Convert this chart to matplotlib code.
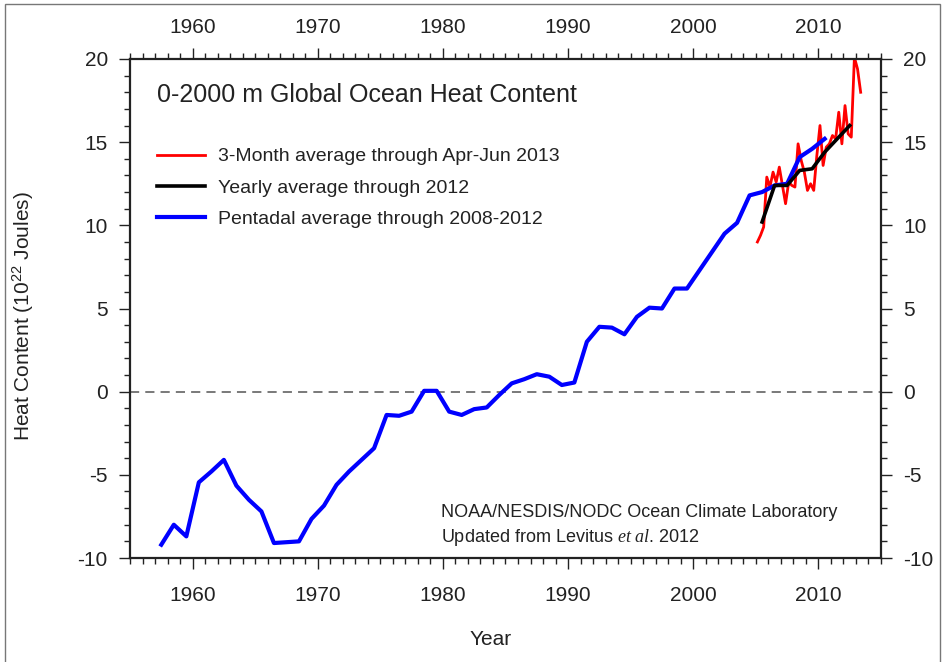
import numpy as np
import matplotlib
matplotlib.use('Agg')
import matplotlib.pyplot as plt
from matplotlib.ticker import MultipleLocator
from matplotlib.patches import Rectangle

plt.rcParams['font.family'] = ['Liberation Sans', 'DejaVu Sans']
plt.rcParams['mathtext.fontset'] = 'custom'
plt.rcParams['mathtext.rm'] = 'Liberation Sans'
plt.rcParams['mathtext.it'] = 'Liberation Serif:italic'
plt.rcParams['axes.unicode_minus'] = False

# pentadal average (centre years)
pent_years = np.arange(1957.5, 2011.0, 1.0)
pent_vals = [-9.2, -8.0, -8.7, -5.45, -4.8, -4.1, -5.65, -6.5, -7.2, -9.1,
             -9.05, -9.0, -7.65, -6.85, -5.6, -4.8, -4.1, -3.4, -1.4, -1.45,
             -1.2, 0.05, 0.05, -1.2, -1.4, -1.05, -0.95, -0.2, 0.5, 0.75,
             1.05, 0.9, 0.4, 0.55, 3.0, 3.9, 3.85, 3.45, 4.5, 5.05,
             5.0, 6.2, 6.2, 7.3, 8.4, 9.5, 10.15, 11.8, 12.0, 12.4,
             12.5, 14.1, 14.6, 15.2]

# yearly average
year_years = np.arange(2005.5, 2013.0, 1.0)
year_vals = [10.2, 12.4, 12.4, 13.3, 13.4, 14.4, 15.2, 16.0]

# 3-month average (quarter centres)
qtr_years = np.arange(2005.125, 2013.5, 0.25)
qtr_vals = [9.0, 9.4, 9.9, 12.9, 12.3, 13.2, 12.6, 13.5, 12.4, 11.3,
            12.6, 12.4, 12.3, 14.9, 13.9, 13.2, 12.1, 12.5, 12.1, 14.2,
            16.0, 13.6, 14.7, 14.9, 15.4, 15.2, 16.8, 14.9, 17.2, 15.5,
            15.3, 20.1, 19.4, 18.0]

fig = plt.figure(figsize=(9.42, 6.62), dpi=100)
ax = fig.add_axes([130/942, 104/662, 751/942, 499/662])

ax.axhline(0, color='#555555', lw=1.1, dashes=(6, 4), zorder=1)
ax.plot(qtr_years, qtr_vals, color='#ff0000', lw=2.0,
        label='3-Month average through Apr-Jun 2013', zorder=2)
ax.plot(year_years, year_vals, color='black', lw=2.6,
        label='Yearly average through 2012', zorder=4)
ax.plot(pent_years, pent_vals, color='#0000ff', lw=3.0,
        label='Pentadal average through 2008-2012', zorder=3)

ax.set_xlim(1955, 2015)
ax.set_ylim(-10, 20)
ax.xaxis.set_major_locator(MultipleLocator(10))
ax.xaxis.set_minor_locator(MultipleLocator(1))
ax.yaxis.set_major_locator(MultipleLocator(5))
ax.yaxis.set_minor_locator(MultipleLocator(1))
ax.tick_params(which='both', direction='out', top=True, right=True,
               labeltop=True, labelright=True, colors='#222222',
               labelcolor='#222222', labelsize=15, width=1.0)
ax.tick_params(which='major', length=8)
ax.tick_params(which='minor', length=4)
ax.tick_params(axis='x', pad=8)
ax.tick_params(axis='y', pad=8)
# bottom year labels sit a bit lower than the top ones
for t in ax.xaxis.get_major_ticks():
    t.label1.set_y(-0.012)
for s in ax.spines.values():
    s.set_linewidth(1.6)
    s.set_color('#222222')

ax.set_xlabel('Year', fontsize=15, color='#222222')
ax.xaxis.set_label_coords(0.48, -0.145)
ax.set_ylabel('Heat Content (10$^{\\mathrm{22}}$ Joules)', fontsize=15, color='#222222')
ax.yaxis.set_label_coords(-0.125, 0.485)

ax.text(0.036, 0.928, '0-2000 m Global Ocean Heat Content', transform=ax.transAxes,
        fontsize=18, va='center', ha='left', color='#222222')

ax.legend(loc='upper left', bbox_to_anchor=(0.036, 0.822), frameon=False,
          fontsize=14, borderpad=0, borderaxespad=0, handlelength=2.47,
          handletextpad=0.67, labelspacing=0.70, labelcolor='#222222')

ax.text(0.414, 0.092, 'NOAA/NESDIS/NODC Ocean Climate Laboratory', transform=ax.transAxes,
        fontsize=13, va='center', ha='left', color='#222222')
ax.text(0.414, 0.042, 'Updated from Levitus $\\mathit{et\\ al.}\\,$2012', transform=ax.transAxes,
        fontsize=13, va='center', ha='left', color='#222222')

fig.add_artist(Rectangle((0.005, -0.05), 0.993, 1.044, transform=fig.transFigure,
                         fill=False, ec='#777777', lw=1.0))

fig.savefig('out.png', dpi=100)
